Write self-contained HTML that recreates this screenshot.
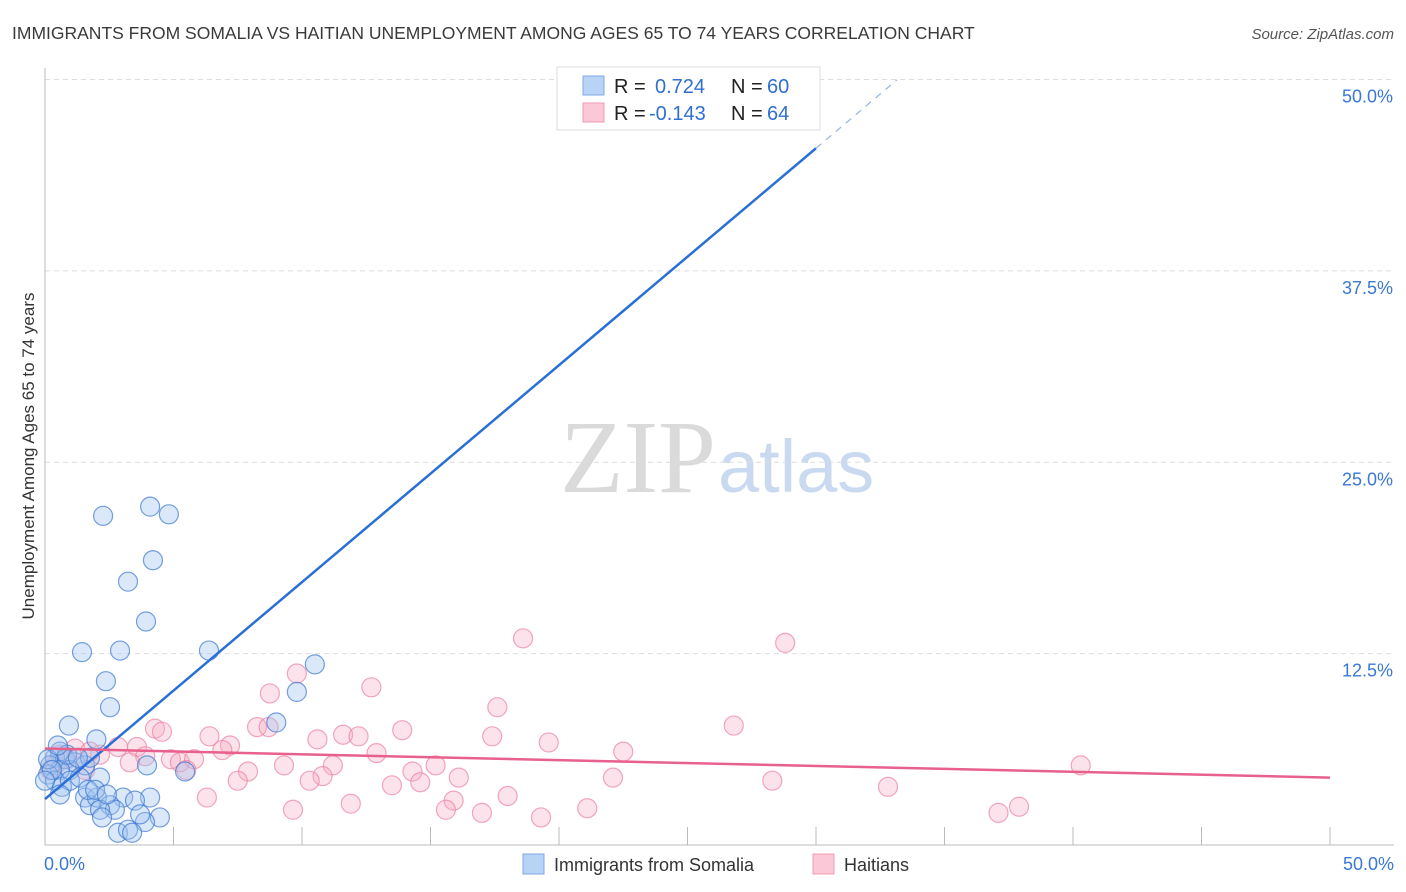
<!DOCTYPE html>
<html><head><meta charset="utf-8"><style>
body{margin:0;background:#fff;font-family:"Liberation Sans",sans-serif;}
#c{position:relative;width:1406px;height:892px;overflow:hidden}
</style></head><body><div id="c">
<svg id="s" width="1406" height="892" xmlns="http://www.w3.org/2000/svg">
<text x="12" y="39" font-size="17.5" fill="#3a3a3a">IMMIGRANTS FROM SOMALIA VS HAITIAN UNEMPLOYMENT AMONG AGES 65 TO 74 YEARS CORRELATION CHART</text>
<text x="1394" y="39" font-size="15" font-style="italic" fill="#555" text-anchor="end">Source: ZipAtlas.com</text>
<text x="716" y="492" font-size="104" font-family="Liberation Serif,serif" fill="#dadada" text-anchor="end">ZIP</text>
<text x="718" y="492" font-size="74" fill="#c9daf0">atlas</text>
<text transform="translate(34,456) rotate(-90)" font-size="17" fill="#333" text-anchor="middle">Unemployment Among Ages 65 to 74 years</text>
<g id="grid"></g><g id="pts"></g><g id="lines"></g>
<rect x="557" y="67" width="263" height="63" fill="#fff" stroke="#ddd"/>
<rect x="583" y="76" width="21" height="19" fill="#b8d3f5" stroke="#7fa9e6"/>
<rect x="583" y="103" width="21" height="19" fill="#fac8d6" stroke="#ef9bb3"/>
<g font-size="20">
<text x="614" y="93" fill="#222">R =</text><text x="655" y="93" fill="#2f6fd0">0.724</text>
<text x="731" y="93" fill="#222">N =</text><text x="767" y="93" fill="#2f6fd0">60</text>
<text x="614" y="120" fill="#222">R =</text><text x="649" y="120" fill="#2f6fd0">-0.143</text>
<text x="731" y="120" fill="#222">N =</text><text x="767" y="120" fill="#2f6fd0">64</text>
</g>
<text x="44" y="870" font-size="18" fill="#3a78d4">0.0%</text>
<text x="1394" y="870" font-size="18" fill="#3a78d4" text-anchor="end">50.0%</text>
<rect x="523" y="854" width="21" height="20" fill="#b8d3f5" stroke="#7fa9e6"/>
<text x="554" y="871" font-size="18" fill="#333">Immigrants from Somalia</text>
<rect x="813" y="854" width="21" height="20" fill="#fac8d6" stroke="#ef9bb3"/>
<text x="844" y="871" font-size="18" fill="#333">Haitians</text>
</svg></div>
<script>
const yTicks=[12.5,25,37.5,50];
const yTickLabels=["12.5%","25.0%","37.5%","50.0%"];
const xTicks=[0,5,10,15,20,25,30,35,40,45,50];
const blueX=[2.26,4.09,4.82,4.2,3.23,3.93,1.44,2.92,6.38,10.5,2.37,9.8,2.53,9.0,0.93,2.0,3.97,5.45,0.58,0.39,0.2,0.78,1.17,1.56,1.75,0.97,0.58,0.12,0.39,0.66,0.97,1.36,2.14,0.58,1.56,1.75,2.02,3.04,4.09,2.53,3.5,2.72,2.14,4.47,3.89,2.22,2.84,3.23,3.39,0.12,0.27,0.86,1.28,1.67,1.95,2.41,3.7,27.4,0,0.5];
const blueY=[21.5,22.1,21.6,18.6,17.2,14.6,12.6,12.7,12.7,11.8,10.7,10.0,9.0,8.0,7.8,6.9,5.2,4.8,6.1,5.7,5.2,5.6,5.4,5.2,5.7,4.9,4.9,4.6,4.2,3.8,4.2,4.4,4.4,3.3,3.1,2.6,3.1,3.1,3.1,2.6,2.9,2.3,2.3,1.8,1.5,1.8,0.8,1.0,0.8,5.6,4.9,5.9,5.7,3.6,3.6,3.3,2.0,48.7,4.2,6.5];
const pinkX=[18.6,28.8,9.8,12.7,8.75,17.6,26.8,4.28,4.55,13.9,8.25,8.7,10.6,11.6,12.2,6.4,7.2,6.9,17.4,19.6,22.5,12.9,3.58,3.9,2.84,2.14,1.17,0.58,4.9,5.25,5.8,5.5,9.3,11.2,10.8,10.3,7.9,7.5,14.3,15.2,16.1,14.6,13.5,22.1,28.3,32.8,40.3,6.3,11.9,15.9,18.0,9.65,15.6,17.0,19.3,21.1,37.9,37.1,0.2,0.86,0.39,1.75,3.3,1.56];
const pinkY=[13.5,13.2,11.2,10.3,9.9,9.0,7.8,7.6,7.4,7.5,7.7,7.7,6.9,7.2,7.1,7.1,6.5,6.2,7.1,6.7,6.1,6.0,6.4,5.8,6.4,5.9,6.3,5.9,5.6,5.4,5.6,4.9,5.2,5.2,4.5,4.2,4.8,4.2,4.8,5.2,4.4,4.1,3.9,4.4,4.2,3.8,5.2,3.1,2.7,2.9,3.2,2.3,2.3,2.1,1.8,2.4,2.5,2.1,4.9,5.6,5.2,6.1,5.4,4.9];
const blueLine=[3.0,1.417];  // intercept, slope
const pinkLine=[6.3,4.4];   // y at x=0, y at x=50
const NS="http://www.w3.org/2000/svg";
const X=v=>45+v*25.7, Y=v=>845-v*15.31;
function mk(t,a,p){const e=document.createElementNS(NS,t);for(const k in a)e.setAttribute(k,a[k]);document.getElementById(p).appendChild(e);return e;}
yTicks.forEach((t,i)=>{
 const l=mk('line',{x1:45,x2:1394,y1:Y(t),y2:Y(t),stroke:'#ddd','stroke-dasharray':'5,4'},'grid');
 
 
 const tx=mk('text',{x:1393,y:Y(t)+23,'font-size':18,fill:'#3a78d4','text-anchor':'end'},'grid');tx.textContent=yTickLabels[i];
 
 
});
const ax=mk('line',{x1:45,x2:45,y1:68,y2:845,stroke:'#bbb'},'grid');


const bx=mk('line',{x1:45,x2:1394,y1:845,y2:845,stroke:'#bbb'},'grid');


xTicks.forEach(t=>{const l=mk('line',{x1:X(t),x2:X(t),y1:827,y2:845,stroke:'#bbb'},'grid');
 
 });
pinkX.forEach((x,i)=>{const c=mk('circle',{cx:X(x),cy:Y(pinkY[i]),r:9.5,fill:'rgba(246,170,195,0.33)',stroke:'rgba(236,130,162,0.7)','stroke-width':1.2},'pts');
 
 });
blueX.forEach((x,i)=>{const c=mk('circle',{cx:X(x),cy:Y(blueY[i]),r:9.5,fill:'rgba(160,195,240,0.38)',stroke:'rgba(60,120,210,0.7)','stroke-width':1.2},'pts');
 
 });
const b1=mk('line',{x1:X(0),y1:Y(blueLine[0]),x2:X(30),y2:Y(blueLine[0]+30*blueLine[1]),stroke:'#2a6fd6','stroke-width':2.5},'lines');


const b2=mk('line',{x1:X(30),y1:Y(blueLine[0]+30*blueLine[1]),x2:X(33.15),y2:Y(blueLine[0]+33.15*blueLine[1]),stroke:'#9ab8e6','stroke-width':1.3,'stroke-dasharray':'7,6'},'lines');


const p1=mk('line',{x1:X(0),y1:Y(pinkLine[0]),x2:X(50),y2:Y(pinkLine[1]),stroke:'#e8608c','stroke-width':2.5},'lines');


</script></body></html>
